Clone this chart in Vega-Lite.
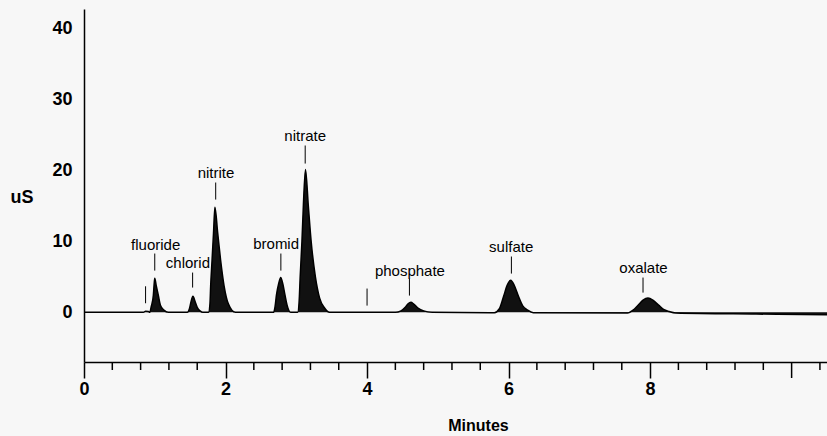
{
  "$schema": "https://vega.github.io/schema/vega-lite/v6.json",
  "width": 743,
  "height": 353,
  "autosize": {"type": "none"},
  "padding": {"left": 84, "top": 9, "right": 0, "bottom": 74},
  "background": "#f7f7f7",
  "config": {"view": {"stroke": null}, "font": "Liberation Sans"},
  "datasets": {
    "trace": [
      {"t": 0, "v": 0}, {"t": 0.8, "v": 0}, {"t": 0.84, "v": 0}, {"t": 0.87, "v": 0.15}, {"t": 0.91, "v": 0.1},
      {"t": 0.93, "v": 0}, {"t": 0.95, "v": 0.8}, {"t": 0.98, "v": 2.4}, {"t": 0.99, "v": 3.8}, {"t": 1.0, "v": 4.8},
      {"t": 1.02, "v": 3.8}, {"t": 1.05, "v": 2.4}, {"t": 1.08, "v": 1.0}, {"t": 1.13, "v": 0.3}, {"t": 1.19, "v": 0},
      {"t": 1.46, "v": 0}, {"t": 1.49, "v": 0.5}, {"t": 1.51, "v": 1.4}, {"t": 1.54, "v": 2.25}, {"t": 1.57, "v": 1.5},
      {"t": 1.6, "v": 0.7}, {"t": 1.64, "v": 0.2}, {"t": 1.68, "v": 0},
      {"t": 1.76, "v": 0}, {"t": 1.78, "v": 1.2}, {"t": 1.79, "v": 3.7}, {"t": 1.81, "v": 7.4}, {"t": 1.83, "v": 11.1}, {"t": 1.85, "v": 14.8},
      {"t": 1.89, "v": 11.1}, {"t": 1.93, "v": 7.4}, {"t": 1.98, "v": 3.7}, {"t": 2.04, "v": 1.2}, {"t": 2.14, "v": 0},
      {"t": 2.68, "v": 0}, {"t": 2.7, "v": 0.8}, {"t": 2.72, "v": 2.45}, {"t": 2.75, "v": 4.0}, {"t": 2.78, "v": 4.9},
      {"t": 2.81, "v": 4.0}, {"t": 2.84, "v": 2.45}, {"t": 2.87, "v": 1.0}, {"t": 2.92, "v": 0},
      {"t": 3.02, "v": 0}, {"t": 3.04, "v": 1.5}, {"t": 3.055, "v": 5}, {"t": 3.08, "v": 10}, {"t": 3.1, "v": 15}, {"t": 3.13, "v": 20.1},
      {"t": 3.17, "v": 15}, {"t": 3.21, "v": 10}, {"t": 3.27, "v": 5}, {"t": 3.33, "v": 2}, {"t": 3.4, "v": 0.6}, {"t": 3.47, "v": 0},
      {"t": 4.4, "v": 0}, {"t": 4.48, "v": 0.2}, {"t": 4.54, "v": 0.7}, {"t": 4.58, "v": 1.2}, {"t": 4.62, "v": 1.4},
      {"t": 4.66, "v": 1.15}, {"t": 4.72, "v": 0.6}, {"t": 4.8, "v": 0.2}, {"t": 4.92, "v": 0},
      {"t": 5.8, "v": -0.05}, {"t": 5.87, "v": 0.5}, {"t": 5.93, "v": 2.25}, {"t": 5.98, "v": 3.8}, {"t": 6.03, "v": 4.5},
      {"t": 6.08, "v": 3.8}, {"t": 6.14, "v": 2.25}, {"t": 6.2, "v": 0.9}, {"t": 6.27, "v": 0.3}, {"t": 6.35, "v": -0.05},
      {"t": 7.68, "v": -0.1}, {"t": 7.76, "v": 0.3}, {"t": 7.83, "v": 1.0}, {"t": 7.9, "v": 1.7}, {"t": 7.97, "v": 2.0},
      {"t": 8.04, "v": 1.7}, {"t": 8.12, "v": 1.0}, {"t": 8.19, "v": 0.4}, {"t": 8.27, "v": 0.1}, {"t": 8.36, "v": -0.1},
      {"t": 9.5, "v": -0.25}, {"t": 10.5, "v": -0.35}
    ],
    "marks": [
      {"t": 0.87, "v": 3.66, "v2": 1.27},
      {"t": 1.0, "v": 8.27, "v2": 5.87},
      {"t": 1.535, "v": 5.59, "v2": 3.48},
      {"t": 1.861, "v": 18.27, "v2": 15.87},
      {"t": 2.782, "v": 8.27, "v2": 5.87},
      {"t": 3.126, "v": 23.48, "v2": 20.94},
      {"t": 4.0, "v": 3.34, "v2": 0.94},
      {"t": 4.599, "v": 4.75, "v2": 2.35},
      {"t": 6.04, "v": 7.85, "v2": 5.45},
      {"t": 7.9, "v": 4.89, "v2": 2.77}
    ],
    "minor": [
      {"t": 0.4, "v": -7, "v2": -8.13}, {"t": 0.8, "v": -7, "v2": -8.13}, {"t": 1.2, "v": -7, "v2": -8.13}, {"t": 1.6, "v": -7, "v2": -8.13},
      {"t": 2.4, "v": -7, "v2": -8.13}, {"t": 2.8, "v": -7, "v2": -8.13}, {"t": 3.2, "v": -7, "v2": -8.13}, {"t": 3.6, "v": -7, "v2": -8.13},
      {"t": 4.4, "v": -7, "v2": -8.13}, {"t": 4.8, "v": -7, "v2": -8.13}, {"t": 5.2, "v": -7, "v2": -8.13}, {"t": 5.6, "v": -7, "v2": -8.13},
      {"t": 6.4, "v": -7, "v2": -8.13}, {"t": 6.8, "v": -7, "v2": -8.13}, {"t": 7.2, "v": -7, "v2": -8.13}, {"t": 7.6, "v": -7, "v2": -8.13},
      {"t": 8.4, "v": -7, "v2": -8.13}, {"t": 8.8, "v": -7, "v2": -8.13}, {"t": 9.2, "v": -7, "v2": -8.13}, {"t": 9.6, "v": -7, "v2": -8.13},
      {"t": 10, "v": -7, "v2": -9.25},
      {"t": 10.4, "v": -7, "v2": -8.13}
    ],
    "labels": [
      {"t": 1.013, "v": 9.53, "label": "fluoride"},
      {"t": 1.469, "v": 7.0, "label": "chlorid"},
      {"t": 1.865, "v": 19.54, "label": "nitrite"},
      {"t": 2.715, "v": 9.68, "label": "bromid"},
      {"t": 3.126, "v": 24.75, "label": "nitrate"},
      {"t": 4.606, "v": 5.87, "label": "phosphate"},
      {"t": 6.037, "v": 9.15, "label": "sulfate"},
      {"t": 7.907, "v": 6.3, "label": "oxalate"}
    ]
  },
  "layer": [
    {
      "data": {"name": "trace"},
      "mark": {"type": "area", "interpolate": "monotone", "color": "#111111", "clip": true},
      "encoding": {
        "x": {
          "field": "t", "type": "quantitative",
          "scale": {"domain": [0, 10.5], "nice": false, "zero": false},
          "axis": {
            "values": [0, 2, 4, 6, 8],
            "format": "d",
            "grid": false,
            "domainColor": "#000000", "domainWidth": 1.5,
            "tickColor": "#000000", "tickWidth": 1.5, "tickSize": 16,
            "labelOverlap": false, "labelFlush": false, "labelBound": false,
            "labelFontSize": 18, "labelFontWeight": "bold", "labelColor": "#000000",
            "labelPadding": 2,
            "title": "Minutes", "titleFontSize": 16, "titleFontWeight": "bold", "titleColor": "#000000",
            "titleX": 394, "titleY": 63, "titleBaseline": "middle"
          }
        },
        "y": {
          "field": "v", "type": "quantitative",
          "scale": {"domain": [-7, 42.7], "nice": false, "zero": false},
          "axis": {
            "values": [0, 10, 20, 30, 40],
            "grid": false, "ticks": false,
            "domainColor": "#000000", "domainWidth": 1.5,
            "labelFontSize": 18, "labelFontWeight": "bold", "labelColor": "#000000",
            "labelPadding": 12,
            "title": "uS", "titleAngle": 0, "titleFontSize": 18, "titleFontWeight": "bold", "titleColor": "#000000",
            "titleX": -74, "titleY": 188, "titleBaseline": "middle", "titleAlign": "left"
          }
        },
        "y2": {"datum": 0}
      }
    },
    {
      "data": {"name": "trace"},
      "mark": {"type": "line", "interpolate": "monotone", "color": "#000000", "strokeWidth": 1.5, "clip": true},
      "encoding": {
        "x": {"field": "t", "type": "quantitative"},
        "y": {"field": "v", "type": "quantitative"}
      }
    },
    {
      "data": {"name": "minor"},
      "mark": {"type": "rule", "color": "#000000", "strokeWidth": 1.5, "clip": false},
      "encoding": {
        "x": {"field": "t", "type": "quantitative"},
        "y": {"field": "v", "type": "quantitative"},
        "y2": {"field": "v2"}
      }
    },
    {
      "data": {"name": "marks"},
      "mark": {"type": "rule", "color": "#000000", "strokeWidth": 1},
      "encoding": {
        "x": {"field": "t", "type": "quantitative"},
        "y": {"field": "v", "type": "quantitative"},
        "y2": {"field": "v2"}
      }
    },
    {
      "data": {"name": "labels"},
      "mark": {"type": "text", "fontSize": 15, "font": "Liberation Sans", "align": "center", "baseline": "middle", "color": "#000000"},
      "encoding": {
        "x": {"field": "t", "type": "quantitative"},
        "y": {"field": "v", "type": "quantitative"},
        "text": {"field": "label"}
      }
    }
  ]
}
